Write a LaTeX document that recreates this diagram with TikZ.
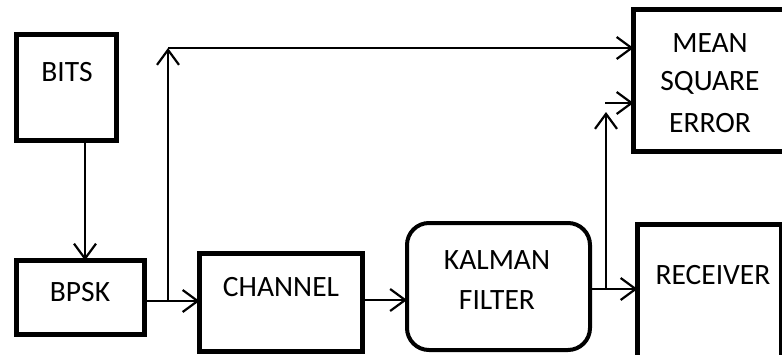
\documentclass[tikz,border=0pt]{standalone}
\usepackage{fontspec}
\setmainfont{Carlito}
\usetikzlibrary{arrows.meta}
\begin{document}
\begin{tikzpicture}[x=1pt,y=-1pt,
  blockbox/.style={draw=black,line width=5pt,inner sep=0pt,outer sep=0pt,minimum width=#1},
  roundbox/.style={draw=black,line width=4pt,rounded corners=22pt,inner sep=0pt,outer sep=0pt},
  lbl/.style={inner sep=0pt,font=\fontsize{29.5}{31}\selectfont},
  arr/.style={line width=2pt,-{Straight Barb[length=15pt,width=22pt,line width=2.2pt]}},
  ln/.style={line width=2pt}]
\useasboundingbox (0,0) rectangle (782,354);
\begin{scope}
\clip (0,0) rectangle (782,354);
% boxes
\node[blockbox=100pt,minimum height=106pt] (bits) at (66.5,87.5) {};
\node[blockbox=128pt,minimum height=74pt] (bpsk) at (80.5,297.5) {};
\node[blockbox=163pt,minimum height=98pt] (channel) at (281,302.5) {};
\node[roundbox,minimum width=183pt,minimum height=127pt] (kalman) at (498.5,286.5) {};
\node[blockbox=144pt,minimum height=134pt] (receiver) at (709.5,291.5) {};
\node[blockbox=160pt,minimum height=142pt] (mse) at (713.5,80.5) {};
\end{scope}
% labels
\node[lbl] (tbits) at (67,72) {BITS};
\node[lbl] (tbpsk) at (80,292) {BPSK};
\node[lbl] (tchannel) at (281,287) {CHANNEL};
\node[lbl] (tkalman) at (497,260) {KALMAN};
\node[lbl] (tfilter) at (497,300) {FILTER};
\node[lbl] (treceiver) at (713,275) {RECEIVER};
\node[lbl] (tmean) at (710,43) {MEAN};
\node[lbl] (tsquare) at (710,83) {SQUARE};
\node[lbl] (terror) at (710,123) {ERROR};
% helper coordinates
\coordinate (xa) at (85,0);
\coordinate (j1) at (168,301);
\coordinate (j2) at (168,48);
\coordinate (ych) at (0,300);
\coordinate (j3) at (606,289);
\coordinate (j4) at (606,112);
\coordinate (j5) at (605,103);
% connectors
\draw[arr] (bits.south -| xa) -- (bpsk.north -| xa);
\draw[arr] (bpsk.east |- j1) -- (channel.west |- j1);
\draw[arr] (j1) -- (j2);
\draw[arr] (j2) -- (mse.west |- j2);
\draw[arr] (channel.east |- ych) -- (kalman.west |- ych);
\draw[arr] (kalman.east |- j3) -- (receiver.west |- j3);
\draw[arr] (j3) -- (j4);
\draw[arr] (j5) -- (mse.west |- j5);
\end{tikzpicture}
\end{document}
